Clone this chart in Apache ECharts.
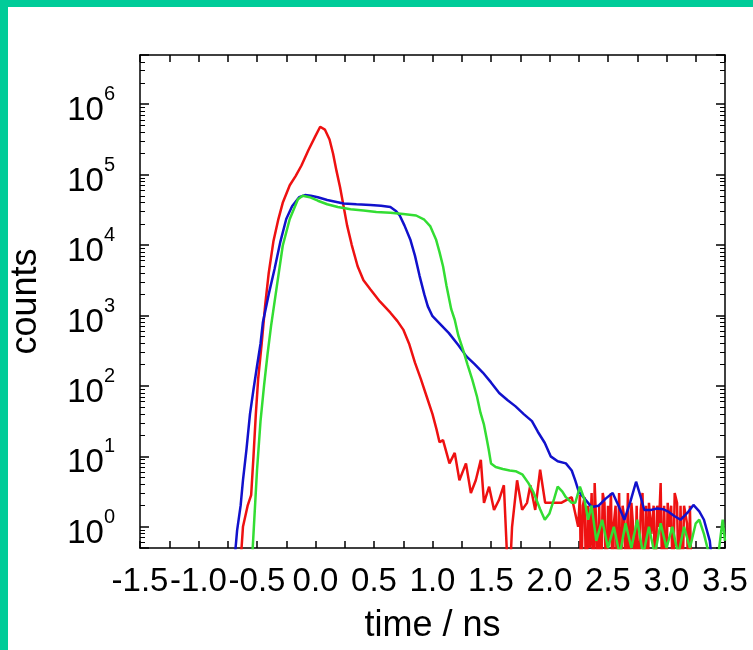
<!DOCTYPE html>
<html>
<head>
<meta charset="utf-8">
<script src="https://cdn.jsdelivr.net/npm/echarts@6/dist/echarts.min.js"></script>
<style>
    html, body {margin: 0; padding: 0; background: #fff;}
    #chart {position: absolute; left: 0; top: 0; width: 753px; height: 650px;}
    .band {position: absolute; background: #00cc99; z-index: 5;}
</style>
</head>
<body>
<div id="chart"></div>
<div class="band" style="left:0;top:0;width:753px;height:7px"></div>
<div class="band" style="left:0;top:0;width:8px;height:650px"></div>
<script>
// time in ns, counts stored as log10(counts); -1 means an empty bin (drops below the axis)
const redTime = [-0.66, -0.62, -0.58, -0.55, -0.53, -0.51, -0.49, -0.46, -0.43, -0.40, -0.36, -0.32, -0.28, -0.22, -0.17,
    -0.12, -0.06, 0.0, 0.04, 0.08, 0.12, 0.15, 0.18, 0.21, 0.24, 0.27, 0.31, 0.36, 0.41, 0.47, 0.55, 0.64, 0.70, 0.75,
    0.80, 0.85, 0.90, 0.95, 1.00, 1.035, 1.06, 1.09, 1.145, 1.19, 1.23, 1.286, 1.328, 1.37, 1.413, 1.44, 1.484, 1.526,
    1.568, 1.61, 1.653, 1.68, 1.723, 1.766, 1.808, 1.836, 1.878, 1.92, 1.963, 2.02, 2.10, 2.19,
    2.245, 2.26, 2.27, 2.285, 2.30, 2.315, 2.33, 2.345, 2.36, 2.375, 2.386, 2.40, 2.41, 2.425, 2.44, 2.455,
    2.47, 2.485, 2.50, 2.51, 2.525, 2.54, 2.55, 2.565, 2.58, 2.595, 2.61, 2.625, 2.64, 2.655, 2.67, 2.685,
    2.70, 2.715, 2.73, 2.745, 2.76, 2.78, 2.795, 2.81, 2.825, 2.84, 2.85, 2.87, 2.89, 2.905, 2.92, 2.935,
    2.95, 2.965, 2.98, 2.995, 3.01, 3.025, 3.04, 3.055, 3.07, 3.09, 3.105, 3.12, 3.135, 3.15, 3.175, 3.19,
    3.20, 3.215, 3.5];
const redLogCounts = [-1, 0.0, 0.3, 0.45, 1.0, 1.6, 2.1, 2.6, 3.15, 3.6, 4.05, 4.35, 4.6, 4.85, 4.98,
    5.13, 5.35, 5.55, 5.68, 5.64, 5.5, 5.3, 5.05, 4.82, 4.55, 4.28, 4.0, 3.7, 3.5, 3.37, 3.2, 3.04, 2.92, 2.8,
    2.6, 2.33, 2.1, 1.85, 1.6, 1.38, 1.2, 1.23, 0.9, 1.05, 0.66, 0.9, 0.48, 0.66, 0.95, 0.34, 0.57, 0.24,
    0.38, 0.59, -1, 0.0, 0.66, 0.24, 0.34, 0.59, 0.24, 0.81, 0.34, 0.34, 0.34, 0.42,
    0.0, 0.45, -1, 0.3, 0.42, -1, 0.3, -0.3, 0.48, -1, 0.62, 0.0, -1, 0.3, -1, 0.48,
    0.34, -1, 0.3, -0.2, 0.48, -1, 0.05, 0.3, -1, 0.48, -1, 0.3, 0.1, -1, 0.48, -1,
    0.34, 0.0, -1, 0.3, -1, 0.24, 0.48, -1, 0.3, -1, 0.34, -0.1, 0.3, -1, 0.3, 0.0,
    0.62, -1, 0.3, -1, 0.34, 0.0, 0.3, -1, 0.48, 0.34, -1, 0.3, -1, 0.3, 0.05, -1,
    0.3, -1, -1];

const blueTime = [-0.72, -0.67, -0.64, -0.62, -0.59, -0.56, -0.53, -0.50, -0.47, -0.45, -0.40, -0.35, -0.30, -0.25,
    -0.20, -0.14, -0.09, -0.04, 0.02, 0.10, 0.24, 0.35, 0.47, 0.56, 0.64, 0.69, 0.72, 0.76, 0.81, 0.85, 0.89, 0.93,
    0.96, 1.00, 1.07, 1.14, 1.22, 1.29, 1.36, 1.43, 1.50, 1.57, 1.64, 1.71, 1.78, 1.85, 1.90, 1.96, 2.01, 2.07,
    2.14, 2.19, 2.22, 2.25, 2.29, 2.33, 2.36, 2.42, 2.48, 2.54, 2.59, 2.64, 2.69, 2.74, 2.78, 2.81, 2.87, 2.92,
    2.97, 3.01, 3.07, 3.12, 3.18, 3.23, 3.28, 3.32, 3.37, 3.42];
const blueLogCounts = [-1, -0.05, 0.3, 0.66, 1.1, 1.6, 1.95, 2.28, 2.6, 2.9, 3.3, 3.66, 4.05, 4.37,
    4.55, 4.68, 4.71, 4.70, 4.68, 4.64, 4.59, 4.58, 4.57, 4.56, 4.54, 4.48, 4.42, 4.28, 4.08, 3.85, 3.56, 3.3,
    3.13, 2.99, 2.87, 2.75, 2.58, 2.42, 2.31, 2.19, 2.05, 1.90, 1.80, 1.71, 1.6, 1.5, 1.35, 1.19, 1.0, 0.93,
    0.90, 0.8, 0.66, 0.5, 0.42, 0.34, 0.28, 0.3, 0.4, 0.48, 0.3, 0.1, 0.35, 0.64, 0.42, 0.24, 0.24, 0.26,
    0.25, 0.22, 0.15, 0.1, 0.2, 0.31, 0.22, 0.1, -0.2, -1];

const greenTime = [-0.56, -0.53, -0.50, -0.47, -0.44, -0.41, -0.38, -0.33, -0.28, -0.22, -0.15, -0.11, -0.05, 0.02,
    0.10, 0.19, 0.30, 0.41, 0.52, 0.64, 0.75, 0.86, 0.93, 0.98, 1.03, 1.06, 1.09, 1.12, 1.16, 1.19, 1.22, 1.26,
    1.30, 1.34, 1.38, 1.41, 1.44, 1.46, 1.48, 1.50, 1.54, 1.60, 1.66, 1.71, 1.77, 1.82, 1.86, 1.88, 1.92, 1.96,
    2.00, 2.04, 2.07, 2.11, 2.14, 2.19, 2.22, 2.26, 2.30, 2.33, 2.36, 2.40, 2.45, 2.50, 2.55, 2.60, 2.65, 2.70,
    2.75, 2.80, 2.85, 2.90, 2.95, 3.00, 3.05, 3.10, 3.15, 3.20, 3.25, 3.28, 3.32, 3.35, 3.40, 3.45, 3.48, 3.50];
const greenLogCounts = [-1, -0.1, 0.8, 1.5, 2.0, 2.45, 2.85, 3.42, 3.99, 4.37, 4.65, 4.70, 4.68, 4.63,
    4.58, 4.54, 4.51, 4.49, 4.47, 4.46, 4.44, 4.42, 4.36, 4.27, 4.08, 3.9, 3.70, 3.42, 3.09, 2.94, 2.72, 2.52,
    2.3, 2.09, 1.85, 1.62, 1.45, 1.28, 1.1, 0.9, 0.85, 0.82, 0.8, 0.79, 0.74, 0.62, 0.5, 0.42, 0.25, 0.1,
    0.19, 0.4, 0.57, 0.5, 0.42, 0.34, 0.34, 0.57, 0.38, 0.1, 0.3, -0.2, 0.1, -0.3, 0.0, -0.4, 0.05, -0.3,
    0.1, -0.4, 0.0, -0.4, 0.05, -0.3, 0.0, -0.4, 0.0, -0.3, 0.05, 0.1, -0.1, -0.3, -1, -0.3, 0.1, -0.2];

const xTicks = ['-1.5', '-1.0', '-0.5', '0.0', '0.5', '1.0', '1.5', '2.0', '2.5', '3.0', '3.5'];

const pairs = (ts, ls) => ts.map((t, i) => [t, Math.pow(10, ls[i])]);

const FONT = "'Liberation Sans', Arial, sans-serif";
const chart = echarts.init(document.getElementById('chart'), null, {renderer: 'canvas'});

const xBase = {
    type: 'value',
    min: -1.5,
    max: 3.5,
    interval: 0.5,
    axisLine: {show: true, onZero: false, lineStyle: {color: '#000', width: 1.5}},
    axisTick: {show: true, inside: true, length: 7, lineStyle: {color: '#000', width: 1.5}},
    minorTick: {show: true, splitNumber: 2, length: 7, lineStyle: {color: '#000', width: 1.5}},
    splitLine: {show: false}
};
const yBase = {
    type: 'log',
    logBase: 10,
    min: 0.5,
    max: 5e6,
    splitNumber: 7,
    axisLine: {show: true, onZero: false, lineStyle: {color: '#000', width: 1.5}},
    axisTick: {show: true, inside: true, length: 9, lineStyle: {color: '#000', width: 1.5}},
    minorTick: {show: true, splitNumber: 9, length: 5, lineStyle: {color: '#000', width: 1}},
    splitLine: {show: false}
};

const option = {
    animation: false,
    backgroundColor: '#fff',
    grid: {left: 134, right: 28, top: 55, bottom: 102},
    xAxis: [
        Object.assign({}, xBase, {
            position: 'bottom',
            name: 'time / ns',
            nameLocation: 'middle',
            nameGap: 60,
            nameTextStyle: {fontSize: 36, fontFamily: FONT, color: '#000'},
            axisLabel: {
                margin: 17, color: '#000', fontSize: 33, fontFamily: FONT,
                showMinLabel: true, showMaxLabel: true, hideOverlap: false,
                formatter: v => xTicks[Math.round((v + 1.5) / 0.5)]
            }
        }),
        Object.assign({}, xBase, {position: 'top', axisLabel: {show: false}})
    ],
    yAxis: [
        Object.assign({}, yBase, {
            position: 'left',
            name: 'counts',
            nameLocation: 'middle',
            nameGap: 96,
            nameTextStyle: {fontSize: 36, fontFamily: FONT, color: '#000'},
            axisLabel: {
                margin: 25,
                showMinLabel: false,
                showMaxLabel: false,
                formatter: v => '{b|10}{s|' + Math.round(Math.log10(v)) + '}',
                rich: {
                    b: {fontSize: 33, fontFamily: FONT, color: '#000', padding: [14, 0, 0, 0]},
                    s: {fontSize: 20, fontFamily: FONT, color: '#000', verticalAlign: 'top', padding: [4, 0, 0, 0]}
                }
            }
        }),
        Object.assign({}, yBase, {position: 'right', axisLabel: {show: false}})
    ],
    series: [
        {type: 'line', name: 'red', data: pairs(redTime, redLogCounts), showSymbol: false, clip: true,
            lineStyle: {color: '#ee1111', width: 2.5}, itemStyle: {color: '#ee1111'}},
        {type: 'line', name: 'blue', data: pairs(blueTime, blueLogCounts), showSymbol: false, clip: true,
            lineStyle: {color: '#1111cc', width: 2.5}, itemStyle: {color: '#1111cc'}},
        {type: 'line', name: 'green', data: pairs(greenTime, greenLogCounts), showSymbol: false, clip: true,
            lineStyle: {color: '#33dd33', width: 2.5}, itemStyle: {color: '#33dd33'}}
    ]
};
chart.setOption(option);
</script>
</body>
</html>
